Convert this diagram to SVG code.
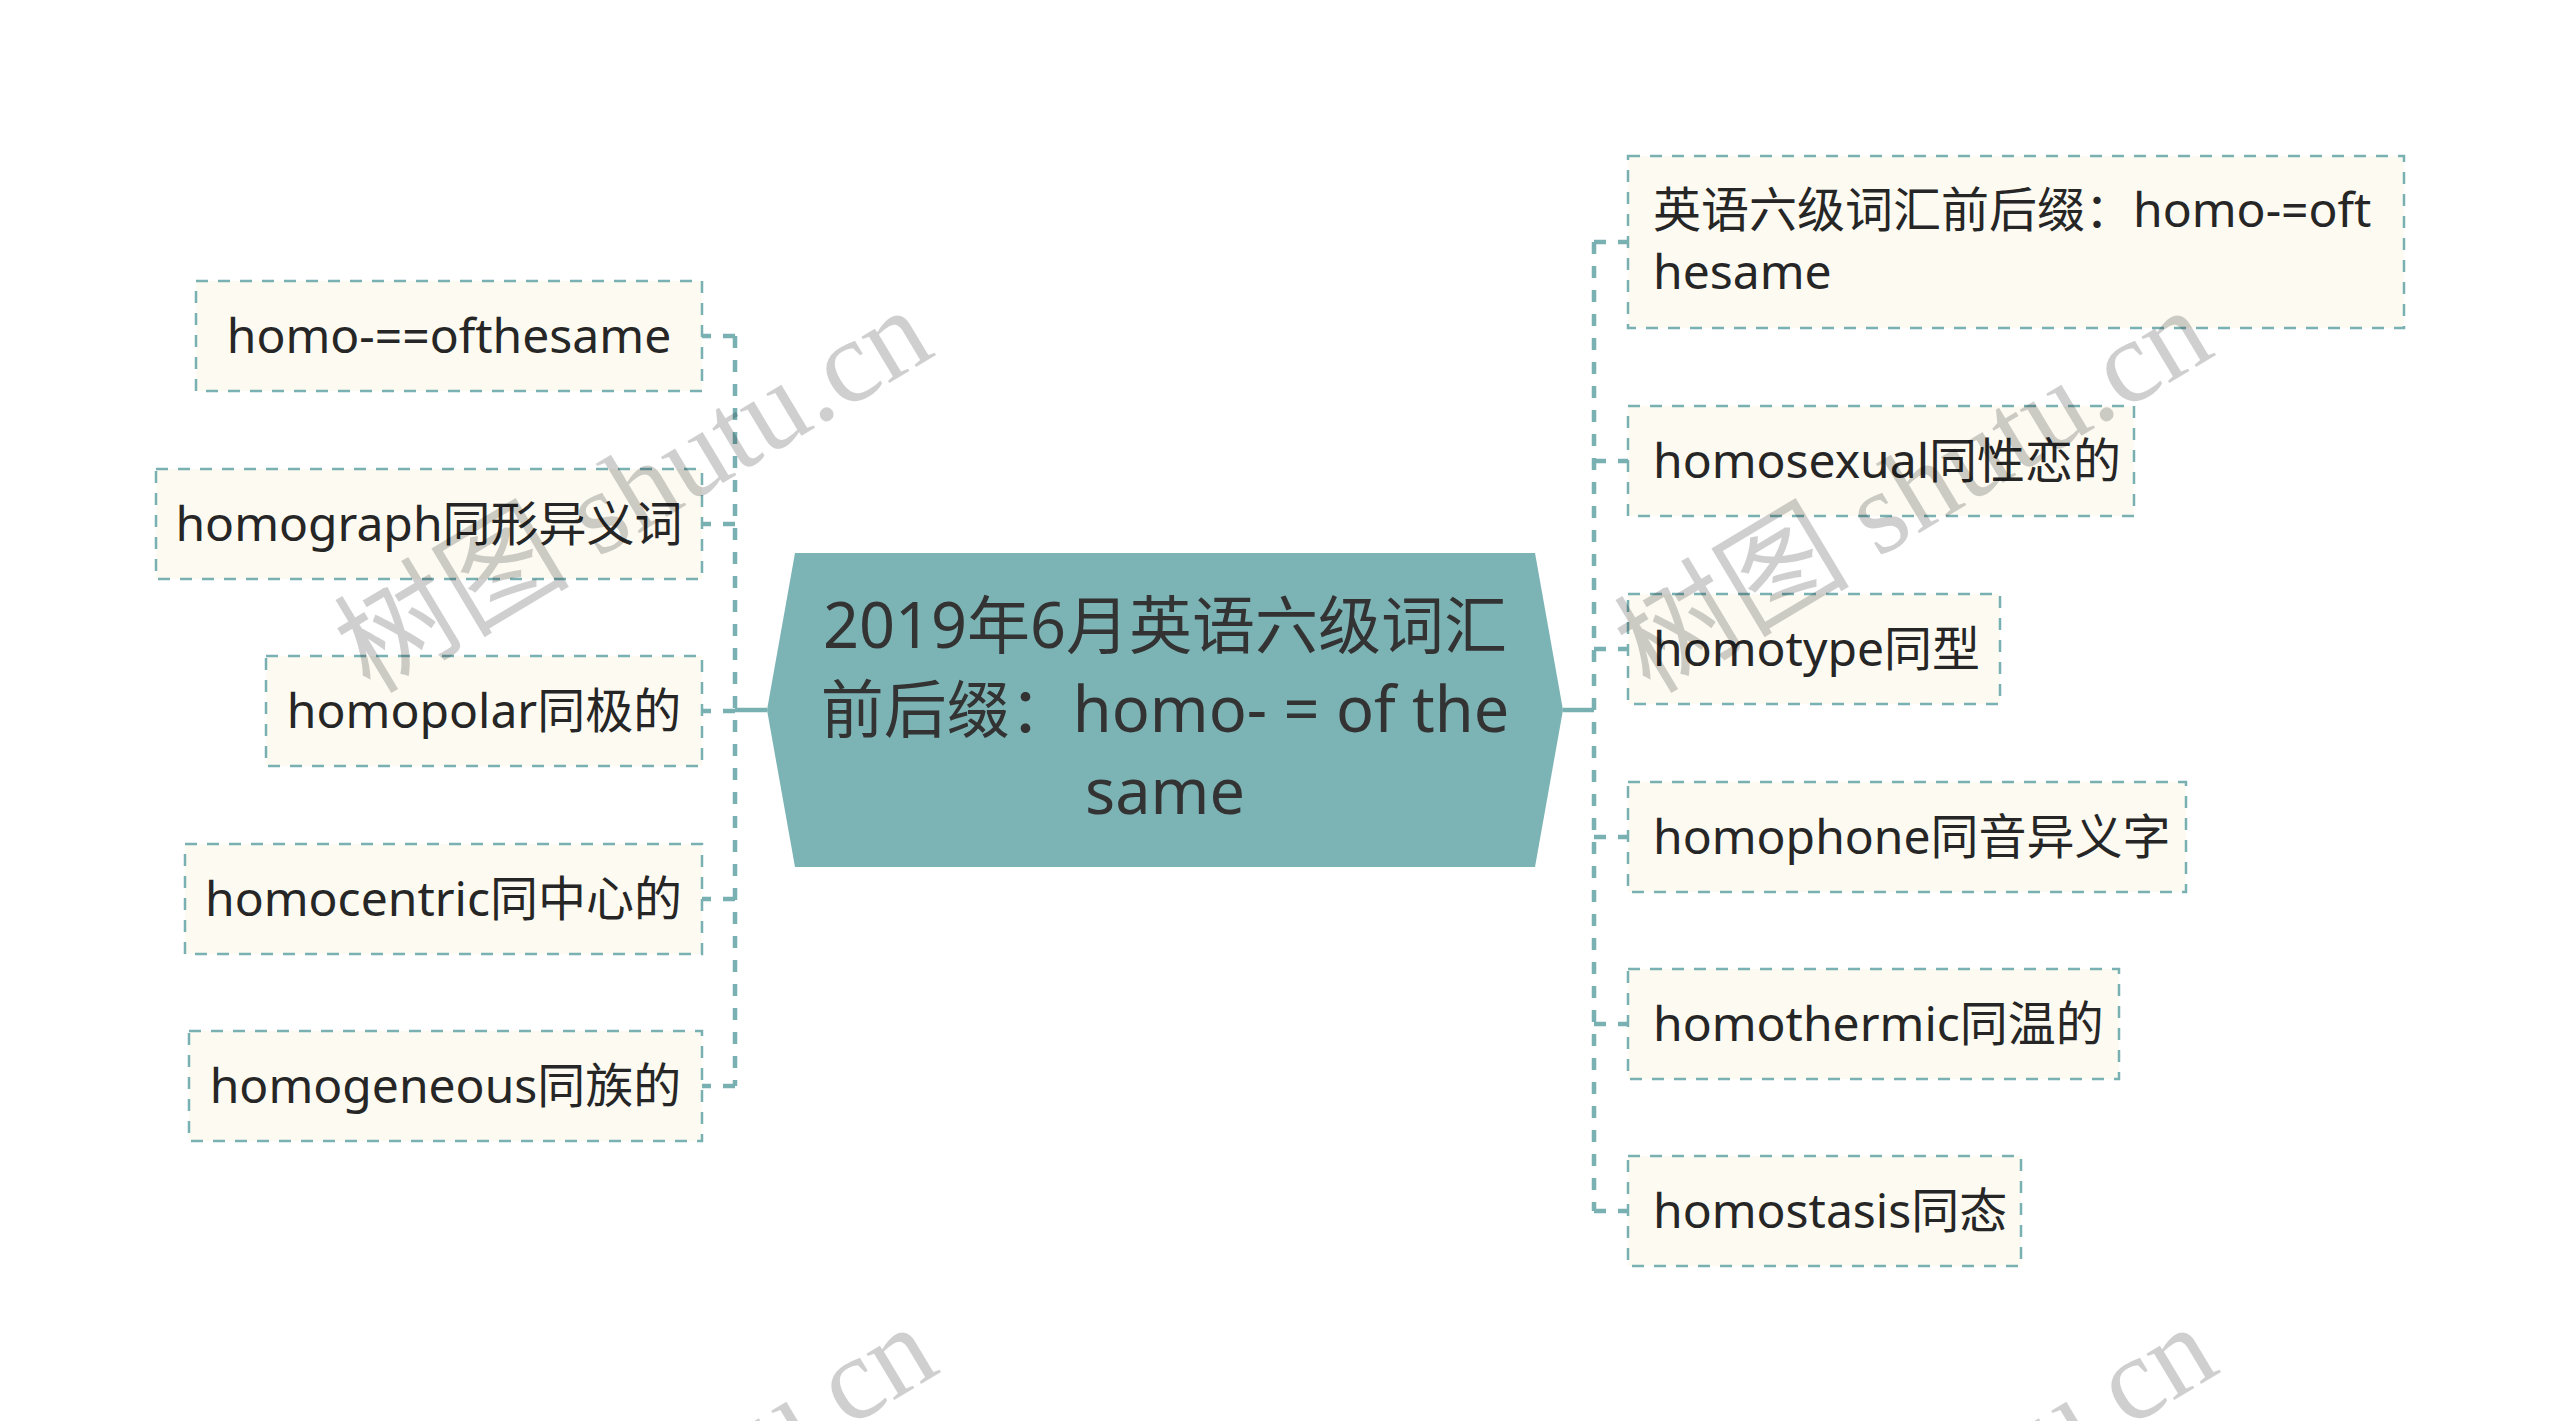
<svg xmlns="http://www.w3.org/2000/svg" width="2560" height="1421" viewBox="0 0 2560 1421">
<style>
.bg{fill:#ffffff}
.node rect{fill:#fcfaf1;stroke:#79b1b3;stroke-width:2.5;stroke-dasharray:12 10}
.node text{font-family:"Noto Sans","Noto Sans CJK SC",sans-serif;font-size:48px;fill:#262626}
.lt{text-anchor:middle}
.center polygon{fill:#7cb3b5}
.center text{font-family:"Noto Sans","Noto Sans CJK SC",sans-serif;font-size:63px;fill:#333333;text-anchor:middle}
.conn path{fill:none;stroke:#79b1b3;stroke-width:4.5}
.conn .dash{stroke-dasharray:12 12}
.wm{font-family:"Liberation Serif","Noto Sans CJK SC",serif;font-size:118px;fill:#000000;fill-opacity:0.19}
</style>
<rect class="bg" x="0" y="0" width="2560" height="1421"/>
<g id="connectors" class="conn">
  <path d="M767 710 H735"/>
  <path class="dash" d="M735 336 V1086"/>
  <path class="dash" d="M735 336 H702"/>
  <path class="dash" d="M735 524 H702"/>
  <path class="dash" d="M735 711 H702"/>
  <path class="dash" d="M735 899 H702"/>
  <path class="dash" d="M735 1086 H702"/>
  <path d="M1563 710 H1594"/>
  <path class="dash" d="M1594 242 V1211"/>
  <path class="dash" d="M1594 242 H1628"/>
  <path class="dash" d="M1594 461 H1628"/>
  <path class="dash" d="M1594 649 H1628"/>
  <path class="dash" d="M1594 837 H1628"/>
  <path class="dash" d="M1594 1024 H1628"/>
  <path class="dash" d="M1594 1211 H1628"/>
</g>
<g id="center" class="center">
  <polygon points="795,553 1535,553 1563,710 1535,867 795,867 767,710"/>
  <text x="1165" y="648">2019年6月英语六级词汇</text>
  <text x="1165" y="732">前后缀：homo- = of the</text>
  <text x="1165" y="814">same</text>
</g>
<g id="left1" class="node"><rect x="196" y="281" width="506" height="110"/><text class="lt" x="449" y="353">homo-==ofthesame</text></g>
<g id="left2" class="node"><rect x="156" y="469" width="546" height="110"/><text class="lt" x="429" y="541">homograph同形异义词</text></g>
<g id="left3" class="node"><rect x="266" y="656" width="436" height="110"/><text class="lt" x="484" y="728">homopolar同极的</text></g>
<g id="left4" class="node"><rect x="185" y="844" width="517" height="110"/><text class="lt" x="443.5" y="916">homocentric同中心的</text></g>
<g id="left5" class="node"><rect x="189" y="1031" width="513" height="110"/><text class="lt" x="445.5" y="1103">homogeneous同族的</text></g>
<g id="right1" class="node"><rect x="1628" y="156" width="776" height="172"/><text x="1653" y="227">英语六级词汇前后缀：homo-=oft</text><text x="1653" y="289">hesame</text></g>
<g id="right2" class="node"><rect x="1628" y="406" width="506" height="110"/><text x="1653" y="478">homosexual同性恋的</text></g>
<g id="right3" class="node"><rect x="1628" y="594" width="372" height="110"/><text x="1653" y="666">homotype同型</text></g>
<g id="right4" class="node"><rect x="1628" y="782" width="558" height="110"/><text x="1653" y="854">homophone同音异义字</text></g>
<g id="right5" class="node"><rect x="1628" y="969" width="491" height="110"/><text x="1653" y="1041">homothermic同温的</text></g>
<g id="right6" class="node"><rect x="1628" y="1156" width="393" height="110"/><text x="1653" y="1228">homostasis同态</text></g>
<g id="watermarks">
  <text class="wm" transform="translate(370 695) rotate(-31)">树图 shutu.cn</text>
  <text class="wm" transform="translate(1650 695) rotate(-31)">树图 shutu.cn</text>
  <text class="wm" transform="translate(375 1712) rotate(-31)">树图 shutu.cn</text>
  <text class="wm" transform="translate(1655 1712) rotate(-31)">树图 shutu.cn</text>
</g>
</svg>
